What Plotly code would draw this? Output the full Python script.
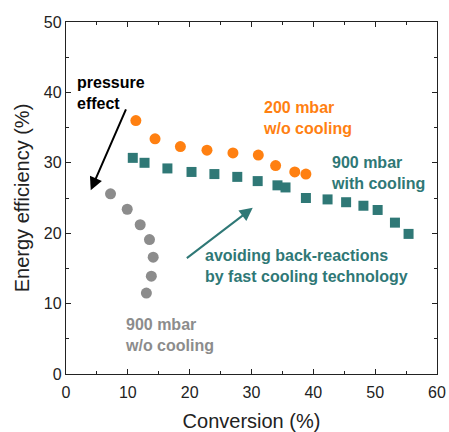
import plotly.graph_objects as go

# Data
orange_x = [11.3, 14.4, 18.5, 22.8, 27.0, 31.1, 33.9, 37.0, 38.8]
orange_y = [36.0, 33.4, 32.3, 31.8, 31.4, 31.1, 29.6, 28.7, 28.4]

teal_x = [10.8, 12.7, 16.4, 20.3, 24.0, 27.7, 31.0, 34.2, 35.5, 38.8, 42.3, 45.3, 48.1, 50.4, 53.2, 55.4]
teal_y = [30.7, 30.0, 29.2, 28.7, 28.4, 28.0, 27.4, 26.8, 26.5, 25.0, 24.8, 24.4, 23.9, 23.3, 21.5, 19.9]

gray_x = [7.2, 9.9, 12.0, 13.5, 14.1, 13.8, 13.0]
gray_y = [25.6, 23.4, 21.2, 19.1, 16.6, 13.9, 11.5]

x_ticks = [0, 10, 20, 30, 40, 50, 60]
y_ticks = [0, 10, 20, 30, 40, 50]

ORANGE = "#FF8011"
TEAL = "#2F7876"
GRAY = "#8C8C8C"
FONT = "Liberation Sans, Arial, sans-serif"

fig = go.Figure()
fig.add_trace(go.Scatter(x=orange_x, y=orange_y, mode="markers",
                         marker=dict(symbol="circle", size=11, color=ORANGE), showlegend=False))
fig.add_trace(go.Scatter(x=teal_x, y=teal_y, mode="markers",
                         marker=dict(symbol="square", size=10, color=TEAL), showlegend=False))
fig.add_trace(go.Scatter(x=gray_x, y=gray_y, mode="markers",
                         marker=dict(symbol="circle", size=11, color=GRAY), showlegend=False))

def label(text, x, y, color):
    fig.add_annotation(x=x, y=y, xref="x", yref="y", text=text, showarrow=False,
                       xanchor="left", yanchor="middle", align="left",
                       font=dict(family=FONT, size=16, color=color, weight="bold"))

label("pressure<br>effect", 1.5, 39.9, "black")
label("200 mbar<br>w/o cooling", 31.6, 36.4, ORANGE)
label("900 mbar<br>with cooling", 42.5, 28.6, TEAL)
label("avoiding back-reactions<br>by fast cooling technology", 22.2, 15.4, TEAL)
label("900 mbar<br>w/o cooling", 9.2, 5.5, GRAY)

fig.add_annotation(x=4.0, y=26.1, ax=9.8, ay=37.8, xref="x", yref="y", axref="x", ayref="y",
                   text="", showarrow=True, arrowhead=2, arrowsize=1.3, arrowwidth=2, arrowcolor="black")
fig.add_annotation(x=30.2, y=23.6, ax=19.3, ay=16.3, xref="x", yref="y", axref="x", ayref="y",
                   text="", showarrow=True, arrowhead=2, arrowsize=1.3, arrowwidth=2, arrowcolor=TEAL)

axis_common = dict(showline=True, linecolor="#222", linewidth=1.3, mirror="ticks",
                   ticks="inside", ticklen=5, tickwidth=1.2, tickcolor="#222",
                   showgrid=False, zeroline=False, automargin=False,
                   tickfont=dict(family=FONT, size=16, color="#222"),
                   minor=dict(ticks="inside", ticklen=3, tickcolor="#222", tickwidth=1, dtick=5, showgrid=False))

fig.update_xaxes(range=[0, 60], tickvals=x_ticks, ticktext=[str(v) for v in x_ticks],
                 ticklabelstandoff=4,
                 title=dict(text="Conversion (%)", font=dict(family=FONT, size=20, color="#222"), standoff=16),
                 **axis_common)
fig.update_yaxes(range=[0, 50], tickvals=y_ticks, ticktext=[str(v) for v in y_ticks],
                 title=dict(text="Energy efficiency (%)", font=dict(family=FONT, size=20, color="#222"), standoff=8),
                 **axis_common)

fig.update_layout(width=449, height=432, margin=dict(l=66, r=12, t=22, b=58),
                  plot_bgcolor="white", paper_bgcolor="white")

fig.write_html("out.html")
